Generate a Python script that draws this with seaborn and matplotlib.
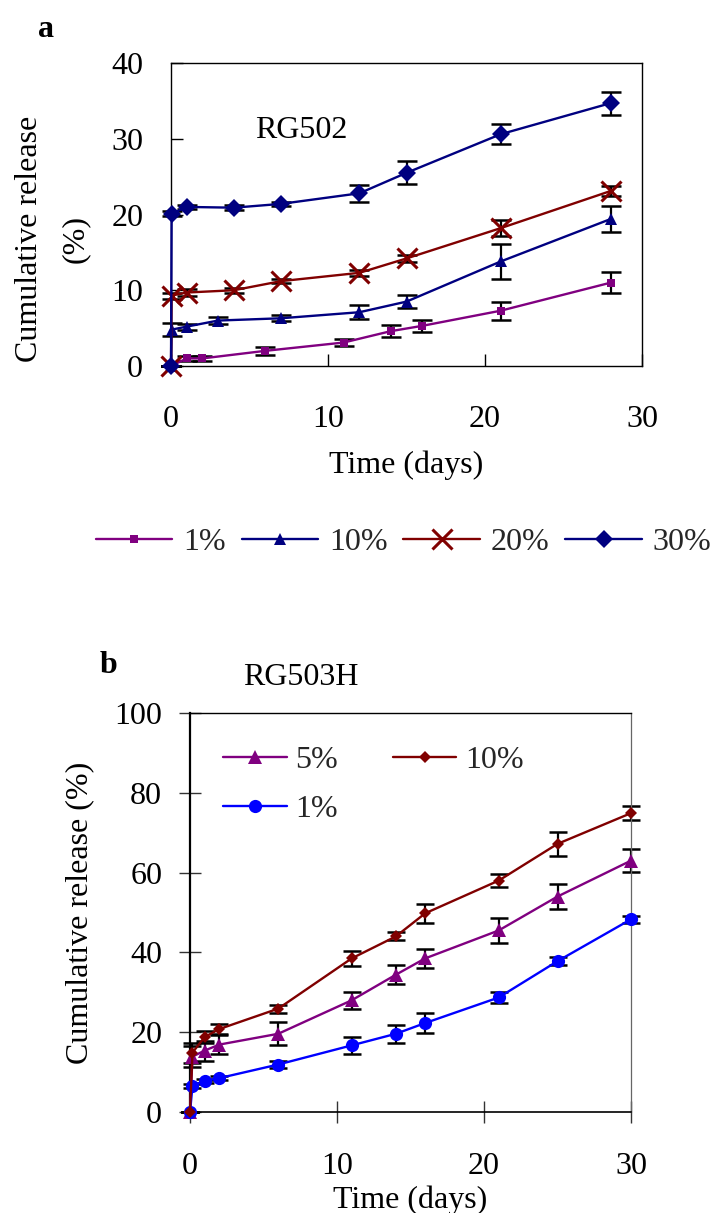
import numpy as np
import pandas as pd
import seaborn as sns
import matplotlib
matplotlib.use("Agg")
import matplotlib.pyplot as plt

# ---------------- Panel a data (RG502) ----------------
a_t_1 = [0, 1, 2, 6, 11, 14, 16, 21, 28]
a_v_1 = [0, 1.0, 1.0, 2.0, 3.1, 4.6, 5.3, 7.3, 11.0]
a_e_1 = [0, 0.3, 0.3, 0.5, 0.4, 0.75, 0.8, 1.2, 1.4]

a_t_10 = [0, 0.04, 1, 3, 7, 12, 15, 21, 28]
a_v_10 = [0, 4.8, 5.2, 6.0, 6.3, 7.1, 8.5, 13.8, 19.4]
a_e_10 = [0, 0.9, 0.4, 0.5, 0.4, 0.95, 0.9, 2.3, 1.7]

a_t_20 = [0, 0.04, 1, 4, 7, 12, 15, 21, 28]
a_v_20 = [0, 9.3, 9.7, 10.0, 11.2, 12.3, 14.2, 18.2, 23.1]
a_e_20 = [0, 0.4, 0.4, 0.3, 0.3, 0.4, 0.5, 1.05, 0.65]

a_t_30 = [0, 0.04, 1, 4, 7, 12, 15, 21, 28]
a_v_30 = [0, 20.1, 21.0, 20.9, 21.4, 22.8, 25.5, 30.6, 34.7]
a_e_30 = [0, 0.3, 0.3, 0.3, 0.3, 1.1, 1.5, 1.3, 1.5]

# ---------------- Panel b data (RG503H) ----------------
b_t = [0, 0.17, 1, 2, 6, 11, 14, 16, 21, 25, 30]
b_v_5 = [0, 13.9, 15.4, 16.9, 19.6, 28.0, 34.4, 38.5, 45.5, 54.0, 63.0]
b_e_5 = [0, 2.7, 2.5, 2.4, 2.9, 2.1, 2.4, 2.3, 3.1, 3.1, 2.8]
b_v_10 = [0, 14.9, 18.8, 20.8, 25.9, 38.5, 44.0, 49.8, 58.0, 67.2, 74.9]
b_e_10 = [0, 2.5, 1.5, 1.2, 1.0, 1.8, 1.0, 2.4, 1.7, 3.1, 1.8]
b_v_1 = [0, 6.5, 7.8, 8.5, 11.9, 16.7, 19.6, 22.3, 28.7, 37.8, 48.3]
b_e_1 = [0, 0.5, 0.5, 0.5, 0.8, 2.2, 2.2, 2.6, 1.5, 1.0, 0.9]

sns.set_theme(style="white")
plt.rcParams['font.family'] = ['Liberation Serif', 'DejaVu Serif']

fig = plt.figure(figsize=(7.18, 12.13), dpi=100)
axA = fig.add_axes([171/718, 1-366/1213, 471/718, 303/1213])
axB = fig.add_axes([190/718, 1-1112/1213, 441/718, 399/1213])

FS = 23

def series(ax, t, v, e, color, marker, ms, label, mew=0, cap=7):
    df = pd.DataFrame({'t': t, 'v': v})
    ax.errorbar(t, v, yerr=e, fmt='none', ecolor='black', elinewidth=1.6,
                capsize=cap, capthick=1.8, zorder=2, clip_on=False, label='_nolegend_')
    sns.lineplot(data=df, x='t', y='v', ax=ax, color=color, marker=marker,
                 markersize=ms, markeredgewidth=mew, markeredgecolor=color,
                 markerfacecolor=color, linewidth=1.7, estimator=None, sort=False,
                 label=label, zorder=3, clip_on=False)

# ---- Panel a ----
series(axA, a_t_1, a_v_1, a_e_1, '#800080', 's', 6, '1%')
series(axA, a_t_10, a_v_10, a_e_10, '#000080', '^', 9, '10%')
series(axA, a_t_20, a_v_20, a_e_20, '#800000', 'x', 14, '20%', mew=2.2)
series(axA, a_t_30, a_v_30, a_e_30, '#000080', 'D', 9, '30%')

axA.set_xlim(0, 30)
axA.set_ylim(0, 40)
axA.set_xticks([0, 10, 20, 30])
axA.set_yticks([0, 10, 20, 30, 40])
axA.tick_params(axis='both', direction='in', length=8.5, width=1, labelsize=FS,
                bottom=True, left=True, color='black', labelcolor='black')
axA.tick_params(axis='y', pad=20)
axA.tick_params(axis='x', pad=28)
for s in axA.spines.values():
    s.set_color('black'); s.set_linewidth(1.0)
axA.set_xlabel('Time (days)', fontsize=FS, labelpad=12, color='black')
axA.set_ylabel('Cumulative release\n(%)', fontsize=FS, linespacing=1.75,
               color='black')
axA.yaxis.set_label_coords((90 - 171) / 471, 0.42)
axA.text((255 - 171) / 471, (366 - 138) / 303, 'RG502', transform=axA.transAxes,
         fontsize=FS, ha='left', va='baseline', color='black')
h, l = axA.get_legend_handles_labels()
axA.legend(h, l, loc='center', bbox_to_anchor=((403.5 - 171) / 471, (366 - 542) / 303),
           ncol=4, frameon=False, fontsize=FS, handlelength=2.4,
           handletextpad=0.33, columnspacing=0.5, borderpad=0, borderaxespad=0)
fig.text(38/718, 1-37/1213, 'a', fontsize=FS, fontweight='bold',
         ha='left', va='baseline', color='black')

# ---- Panel b ----
series(axB, b_t, b_v_5, b_e_5, '#800080', '^', 9.5, '5%', cap=6.5)
series(axB, b_t, b_v_1, b_e_1, '#0000FF', 'o', 9.5, '1%', cap=6.5)
series(axB, b_t, b_v_10, b_e_10, '#800000', 'D', 6, '10%', cap=6.5)

axB.set_xlim(0, 30)
axB.set_ylim(0, 100)
axB.set_xticks([0, 10, 20, 30])
axB.set_yticks([0, 20, 40, 60, 80, 100])
axB.tick_params(axis='both', direction='inout', length=16, width=1, labelsize=FS,
                bottom=True, left=True, color='#333333', labelcolor='black')
axB.tick_params(axis='y', pad=12)
axB.tick_params(axis='x', pad=21)
axB.spines['left'].set_linewidth(1.6)
axB.spines['bottom'].set_linewidth(1.2)
axB.spines['top'].set_linewidth(1.0)
for k in ['left', 'bottom', 'top']:
    axB.spines[k].set_color('black')
axB.spines['right'].set_color('#666666'); axB.spines['right'].set_linewidth(0.9)
axB.set_xlabel('Time (days)', fontsize=FS, labelpad=3, color='black')
axB.set_ylabel('Cumulative release (%)', fontsize=FS, color='black')
axB.yaxis.set_label_coords((94 - 190) / 441, 0.5)
axB.text((243 - 190) / 441, (1112 - 685) / 399, 'RG503H', transform=axB.transAxes,
         fontsize=FS, ha='left', va='baseline', color='black')
h, l = axB.get_legend_handles_labels()
axB.legend(h, l, loc='upper left', bbox_to_anchor=((223 - 190) / 441, 0.918), ncol=2,
           frameon=False, fontsize=FS, handlelength=2.0, handletextpad=0.27,
           columnspacing=1.7, labelspacing=0.62, borderpad=0, borderaxespad=0)
fig.text(100/718, 1-673/1213, 'b', fontsize=FS, fontweight='bold',
         ha='left', va='baseline', color='black')

fig.savefig('out.png', dpi=100)
